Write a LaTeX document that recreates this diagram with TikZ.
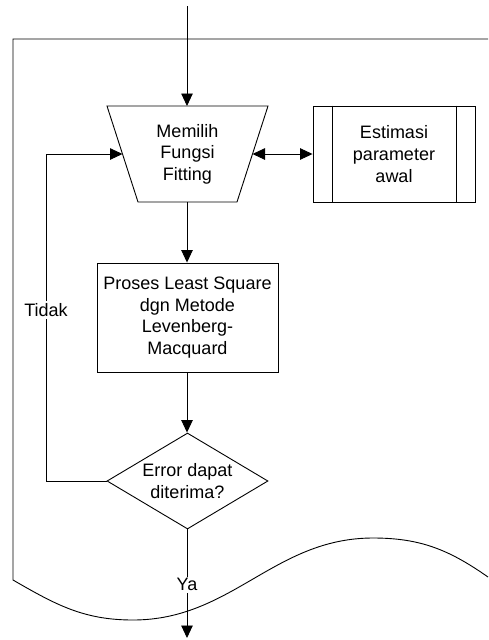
\documentclass[tikz,border=0pt]{standalone}
\usepackage{fontspec}
\setmainfont{Liberation Sans}
\usetikzlibrary{arrows.meta,shapes.geometric}
\begin{document}
\begin{tikzpicture}[x=1pt,y=-1pt,
  line width=0.9pt,
  txt/.style={font=\fontsize{18}{21.6}\selectfont, align=center, inner sep=0pt},
  box/.style={draw, txt, minimum width=181pt, minimum height=109pt},
  sub/.style={draw, txt, minimum width=162pt, minimum height=96pt},
  dec/.style={draw, diamond, txt, aspect=1.68, minimum width=161pt, minimum height=96pt},
  lbl/.style={txt, fill=white, inner sep=2pt},
  arr/.style={-{Triangle[length=12.5pt,width=11.5pt]}},
  darr/.style={{Triangle[length=12.5pt,width=11.5pt]}-{Triangle[length=12.5pt,width=11.5pt]}}
]
\useasboundingbox (0,0) rectangle (488,640);
% document shape
\draw (488,39) -- (13,39) -- (13,580)
  to[out=-30,in=180] (133,620)
  to[out=0,in=180] (373,538)
  to[out=0,in=145] (488,577);
% trapezoid (manual input)
\draw (107,106) -- (268,106) -- (237,202) -- (138,202) -- cycle;
\node[txt] (trap) at (187.5,154) {Memilih\\Fungsi\\Fitting};
\coordinate (trapT) at (187,106);
\coordinate (trapB) at (187,202);
\coordinate (trapL) at (122.5,154);
\coordinate (trapR) at (252.5,154);
% predefined process
\node[sub] (est) at (394,154) {Estimasi\\parameter\\awal};
\draw ([xshift=20pt]est.north west) -- ([xshift=20pt]est.south west);
\draw ([xshift=-19pt]est.north east) -- ([xshift=-19pt]est.south east);
% process
\node[box] (proc) at (187.5,317.5) {Proses Least Square\\dgn Metode\\Levenberg-\\Macquard};
% decision
\node[dec] (dec) at (187.5,481) {Error dapat\\diterima?};
% connectors
\coordinate (start) at (187,6);
\coordinate (end) at (187,638);
\coordinate (fbB) at (46,481);
\coordinate (fbT) at (46,154);
\draw[arr] (start) -- (trapT);
\draw[darr] (trapR) -- (est.west);
\draw[arr] (trapB) -- (proc.north -| trapB);
\draw[arr] (proc.south -| trapB) -- (dec.north -| trapB);
\draw[arr] (dec.west) -- (fbB) -- node[lbl, pos=0.523] (tidak) {Tidak} (fbT) -- (trapL);
\draw[arr] (dec.south -| trapB) -- node[lbl, pos=0.51] (ya) {Ya} (end);
\end{tikzpicture}
\end{document}
